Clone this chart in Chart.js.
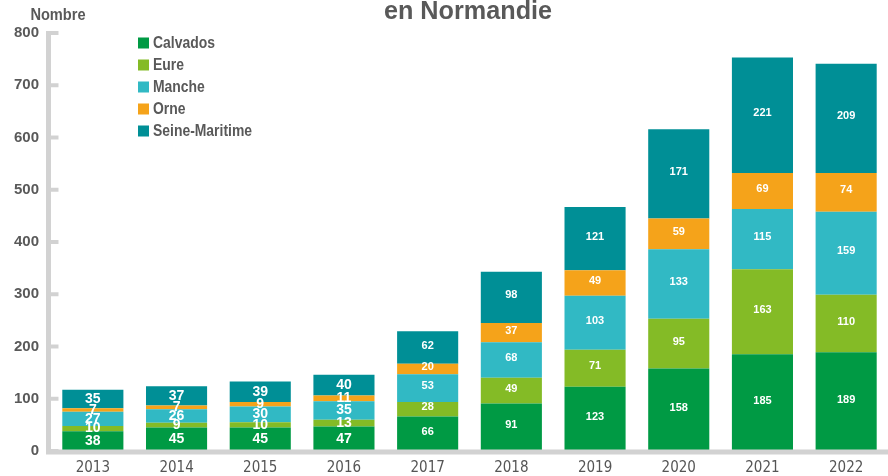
<!DOCTYPE html>
<html>
<head>
<meta charset="utf-8">
<script src="https://cdn.jsdelivr.net/npm/chart.js@4/dist/chart.umd.min.js"></script>
<style>
  html, body { margin: 0; padding: 0; background: #ffffff; }
  #wrap { width: 888px; height: 476px; position: relative; }
</style>
</head>
<body>
<div id="wrap"><canvas id="c" width="888" height="476"></canvas></div>
<script>
// Yearly counts per département, stacked
const years = ['2013', '2014', '2015', '2016', '2017', '2018', '2019', '2020', '2021', '2022'];
const calvados = [38, 45, 45, 47, 66, 91, 123, 158, 185, 189];
const eure = [10, 9, 10, 13, 28, 49, 71, 95, 163, 110];
const manche = [27, 26, 30, 35, 53, 68, 103, 133, 115, 159];
const orne = [7, 7, 9, 11, 20, 37, 49, 59, 69, 74];
const seineMaritime = [35, 37, 39, 40, 62, 98, 121, 171, 221, 209];
const yTicks = [0, 100, 200, 300, 400, 500, 600, 700, 800];

const titleText = 'en Normandie';
const unitText = 'Nombre';

const SANS = '"Liberation Sans", Arial, sans-serif';
const CONDENSED = '"DejaVu Sans Condensed", "Liberation Sans", sans-serif';
const TEXT_GREY = '#595959';
const AXIS_GREY = '#d2d2d2';

// Text squeezed horizontally to a condensed look
function drawText(ctx, text, x, y, font, scaleX, align) {
  ctx.save();
  ctx.font = font;
  ctx.textAlign = align;
  ctx.translate(x, y);
  ctx.scale(scaleX, 1);
  ctx.fillText(text, 0, 0);
  ctx.restore();
}

// Axis lines with inward tick marks
const axisPlugin = {
  id: 'axisLines',
  afterDatasetsDraw(chart) {
    const { ctx, chartArea, scales } = chart;
    const y = scales.y;
    const x0 = chartArea.left - 2.5;
    const yTop = y.getPixelForValue(yTicks[yTicks.length - 1]);
    const yBot = y.getPixelForValue(0);
    ctx.save();
    ctx.strokeStyle = AXIS_GREY;
    ctx.lineCap = 'butt';
    ctx.lineWidth = 4;
    yTicks.forEach(v => {
      const py = y.getPixelForValue(v);
      ctx.beginPath();
      ctx.moveTo(x0, py);
      ctx.lineTo(x0 + 10, py);
      ctx.stroke();
    });
    ctx.lineWidth = 5;
    ctx.beginPath();
    ctx.moveTo(x0, yTop - 2);
    ctx.lineTo(x0, yBot + 2);
    ctx.stroke();
    ctx.beginPath();
    ctx.moveTo(x0 - 2.5, yBot + 1);
    ctx.lineTo(chart.width + 20, yBot + 1);
    ctx.stroke();
    ctx.restore();
  }
};

// Value labels inside each segment
const valueLabels = {
  id: 'valueLabels',
  afterDatasetsDraw(chart) {
    const { ctx } = chart;
    ctx.save();
    ctx.fillStyle = '#ffffff';
    ctx.textAlign = 'center';
    ctx.textBaseline = 'middle';
    chart.data.datasets.forEach((ds, di) => {
      const meta = chart.getDatasetMeta(di);
      meta.data.forEach((bar, i) => {
        const small = i < 4;
        ctx.font = 'bold ' + (small ? 14 : 11) + 'px ' + SANS;
        const cy = (bar.y + bar.base) / 2 + (small ? 0 : -2);
        ctx.fillText(String(ds.data[i]), bar.x, cy);
      });
    });
    ctx.restore();
  }
};

// Title, unit and legend
const decorations = {
  id: 'decorations',
  afterDraw(chart) {
    const { ctx } = chart;
    ctx.save();
    ctx.fillStyle = TEXT_GREY;
    ctx.textBaseline = 'alphabetic';
    drawText(ctx, titleText, 468, 19, 'bold 26px ' + SANS, 0.97, 'center');
    drawText(ctx, unitText, 58, 20, 'bold 17px ' + SANS, 0.86, 'center');

    ctx.textBaseline = 'middle';
    chart.data.datasets.forEach((ds, i) => {
      const cy = 43 + i * 22;
      ctx.fillStyle = ds.backgroundColor;
      ctx.fillRect(138, cy - 5.5, 11, 11);
      ctx.fillStyle = TEXT_GREY;
      drawText(ctx, ds.label, 153, cy + 1, 'bold 16px ' + SANS, 0.87, 'left');
    });
    ctx.restore();
  }
};

new Chart(document.getElementById('c'), {
  type: 'bar',
  data: {
    labels: years,
    datasets: [
      { label: 'Calvados', data: calvados, backgroundColor: '#009a44' },
      { label: 'Eure', data: eure, backgroundColor: '#84bb26' },
      { label: 'Manche', data: manche, backgroundColor: '#31b9c4' },
      { label: 'Orne', data: orne, backgroundColor: '#f5a31a' },
      { label: 'Seine-Maritime', data: seineMaritime, backgroundColor: '#008f96' }
    ]
  },
  options: {
    responsive: false,
    animation: false,
    layout: { padding: { top: 33, right: -12, left: 0, bottom: 0 } },
    datasets: { bar: { categoryPercentage: 1, barPercentage: 0.73, borderWidth: 0 } },
    plugins: {
      legend: { display: false },
      title: { display: false },
      tooltip: { enabled: false }
    },
    scales: {
      x: {
        stacked: true,
        grid: { display: false, drawTicks: false },
        border: { display: false },
        ticks: {
          color: '#555555',
          padding: 8,
          font: { family: CONDENSED, size: 15 }
        },
        afterFit(s) { s.height = 25; }
      },
      y: {
        stacked: true,
        min: 0,
        max: 800,
        grid: { display: false, drawTicks: false },
        border: { display: false },
        ticks: {
          stepSize: 100,
          color: TEXT_GREY,
          padding: 12,
          font: { family: SANS, size: 15, weight: 'bold' }
        },
        afterFit(s) { s.width = 51; }
      }
    }
  },
  plugins: [axisPlugin, valueLabels, decorations]
});
</script>
</body>
</html>
